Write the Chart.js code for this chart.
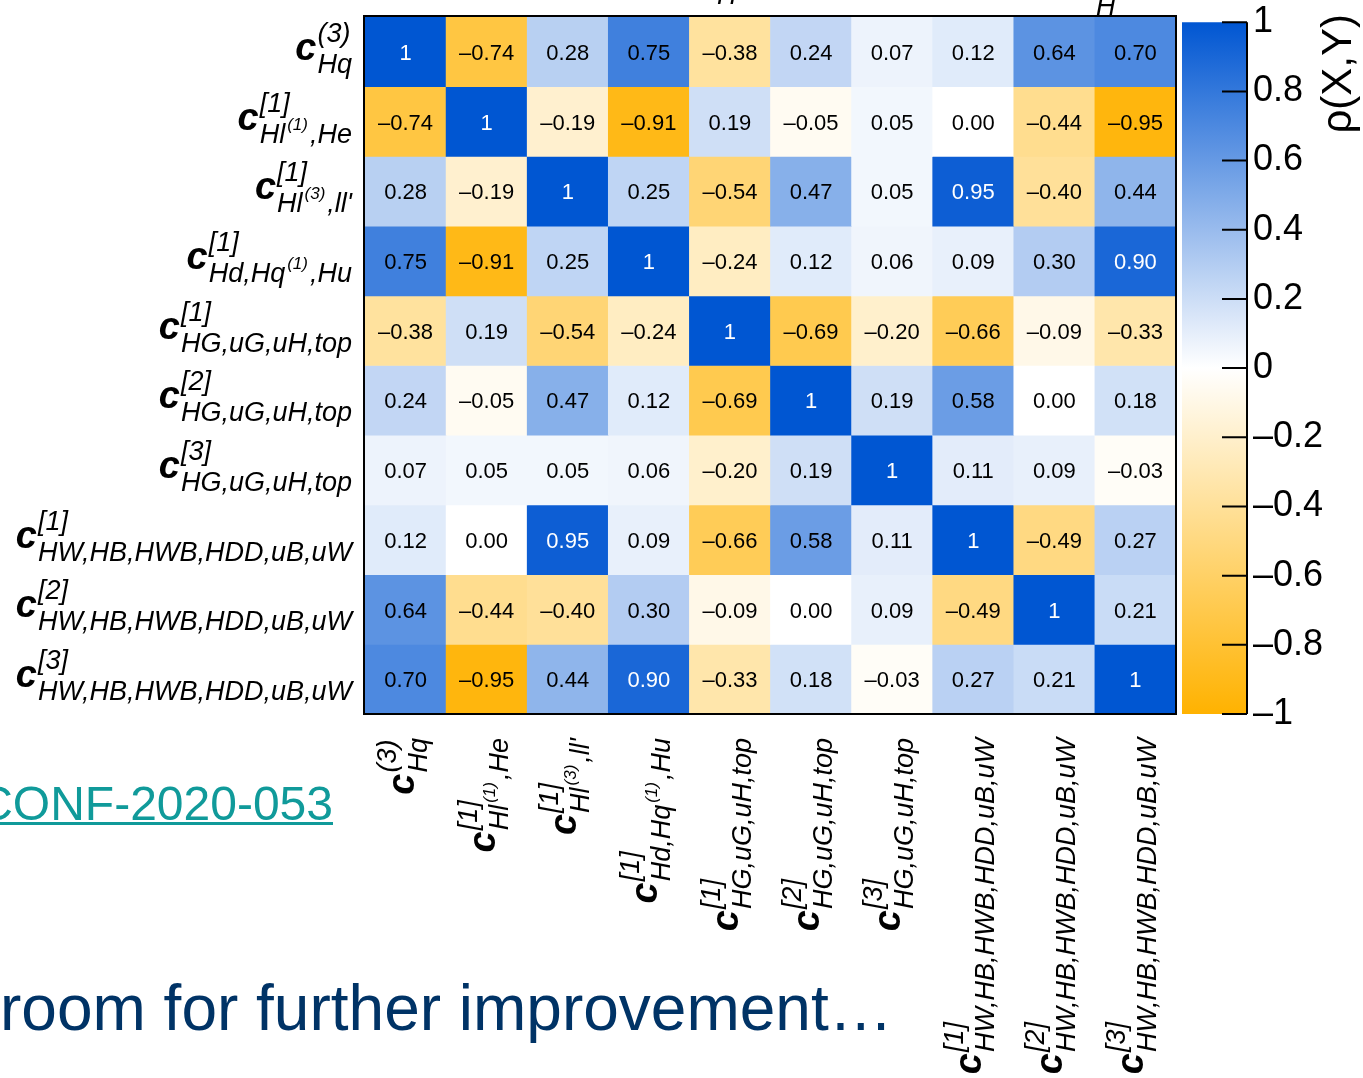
<!DOCTYPE html>
<html>
<head>
<meta charset="utf-8">
<script src="https://cdn.jsdelivr.net/npm/chart.js@4.4.1/dist/chart.umd.min.js"></script>
<style>
  html, body { margin: 0; padding: 0; background: #fff; }
  #wrap { position: relative; width: 1363px; height: 1078px; overflow: hidden; }
  canvas { position: absolute; left: 0; top: 0; }
</style>
</head>
<body>
<div id="wrap">
  <canvas id="matrix" width="1363" height="1078"></canvas>
  <canvas id="scale" width="1363" height="1078"></canvas>
</div>
<script>
// Wilson coefficient groups (rows / columns of the correlation matrix)
const paramKeys = ['cHq3', 'cHl1He', 'cHl3ll', 'cHdHqHu', 'cHG1', 'cHG2', 'cHG3', 'cHW1', 'cHW2', 'cHW3'];
// superscript of the coefficient symbol
const paramSup = ['(3)', '[1]', '[1]', '[1]', '[1]', '[2]', '[3]', '[1]', '[2]', '[3]'];
// subscript pieces; a piece starting with '^' is a raised index inside the subscript
const paramSub = [
  ['Hq'],
  ['Hl', '^(1)', ',He'],
  ['Hl', '^(3)', ",ll'"],
  ['Hd,Hq', '^(1)', ',Hu'],
  ['HG,uG,uH,top'],
  ['HG,uG,uH,top'],
  ['HG,uG,uH,top'],
  ['HW,HB,HWB,HDD,uB,uW'],
  ['HW,HB,HWB,HDD,uB,uW'],
  ['HW,HB,HWB,HDD,uB,uW']
];

// correlation coefficients rho(X,Y), one array per row
const rho = [
  [ 1.00, -0.74,  0.28,  0.75, -0.38,  0.24,  0.07,  0.12,  0.64,  0.70],
  [-0.74,  1.00, -0.19, -0.91,  0.19, -0.05,  0.05,  0.00, -0.44, -0.95],
  [ 0.28, -0.19,  1.00,  0.25, -0.54,  0.47,  0.05,  0.95, -0.40,  0.44],
  [ 0.75, -0.91,  0.25,  1.00, -0.24,  0.12,  0.06,  0.09,  0.30,  0.90],
  [-0.38,  0.19, -0.54, -0.24,  1.00, -0.69, -0.20, -0.66, -0.09, -0.33],
  [ 0.24, -0.05,  0.47,  0.12, -0.69,  1.00,  0.19,  0.58,  0.00,  0.18],
  [ 0.07,  0.05,  0.05,  0.06, -0.20,  0.19,  1.00,  0.11,  0.09, -0.03],
  [ 0.12,  0.00,  0.95,  0.09, -0.66,  0.58,  0.11,  1.00, -0.49,  0.27],
  [ 0.64, -0.44, -0.40,  0.30, -0.09,  0.00,  0.09, -0.49,  1.00,  0.21],
  [ 0.70, -0.95,  0.44,  0.90, -0.33,  0.18, -0.03,  0.27,  0.21,  1.00]
];

// colour scale end points
const scaleMin = -1;
const scaleMax = 1;
const scaleStep = 0.2;
const colNeg = [255, 178, 0];
const colZero = [255, 255, 255];
const colPos = [0, 86, 210];

const FONT = '"Liberation Sans", Arial, Helvetica, sans-serif';

function colorFor(v) {
  const t = Math.min(1, Math.abs(v));
  const end = v >= 0 ? colPos : colNeg;
  const c = colZero.map((z, k) => Math.round(z + (end[k] - z) * t));
  return `rgb(${c[0]},${c[1]},${c[2]})`;
}

function fmtCell(v) {
  if (v === 1) return '1';
  return (v < 0 ? '\u2013' : '') + Math.abs(v).toFixed(2);
}

// draws c^{sup}_{sub} right-aligned at rightX, centred on line cy (local coordinates)
function drawSymbol(ctx, idx, rightX, cy) {
  const cFont = 'italic bold 38px ' + FONT;
  const sFont = 'italic 27px ' + FONT;
  const nFont = 'italic 17px ' + FONT;
  ctx.font = cFont;
  const cW = ctx.measureText('c').width;
  ctx.font = sFont;
  const supW = ctx.measureText(paramSup[idx]).width;
  const pieces = paramSub[idx].map(p => {
    const raised = p.startsWith('^');
    const txt = raised ? p.slice(1) : p;
    ctx.font = raised ? nFont : sFont;
    return { txt, raised, w: ctx.measureText(txt).width + (raised ? 4 : 0) };
  });
  const subW = pieces.reduce((a, p) => a + p.w, 0);
  const total = cW + 1 + Math.max(supW, subW);
  const x0 = rightX - total;
  const base = cy + 8;
  ctx.fillStyle = '#000';
  ctx.textAlign = 'left';
  ctx.textBaseline = 'alphabetic';
  ctx.font = cFont;
  ctx.fillText('c', x0, base);
  ctx.font = sFont;
  ctx.fillText(paramSup[idx], x0 + cW + 1, base - 18);
  let x = x0 + cW + 1;
  pieces.forEach(p => {
    if (p.raised) {
      ctx.font = nFont;
      ctx.fillText(p.txt, x + 2, base + 13 - 13);
    } else {
      ctx.font = sFont;
      ctx.fillText(p.txt, x, base + 13);
    }
    x += p.w;
  });
}

const matrixDecor = {
  id: 'matrixDecor',
  afterDatasetsDraw(chart) {
    const ctx = chart.ctx;
    // cell values
    ctx.save();
    ctx.font = '22px ' + FONT;
    ctx.textAlign = 'center';
    ctx.textBaseline = 'middle';
    chart.data.datasets.forEach((ds, i) => {
      chart.getDatasetMeta(i).data.forEach((bar, j) => {
        const v = rho[i][j];
        ctx.fillStyle = v >= 0.9 ? '#fff' : '#000';
        ctx.fillText(fmtCell(v), bar.x, (bar.y + bar.base) / 2 + 2);
      });
    });
    ctx.restore();
  },
  afterDraw(chart) {
    const ctx = chart.ctx;
    const ca = chart.chartArea;
    const xs = chart.scales.x;
    const ys = chart.scales.y;
    // frame
    ctx.save();
    ctx.strokeStyle = '#000';
    ctx.lineWidth = 2;
    ctx.strokeRect(ca.left - 1, ca.top - 1, ca.right - ca.left + 1, ca.bottom - ca.top + 1);
    ctx.restore();
    // row labels
    paramKeys.forEach((k, i) => {
      ctx.save();
      drawSymbol(ctx, i, ca.left - 13, ys.getPixelForValue(i + 0.5));
      ctx.restore();
    });
    // column labels, rotated
    paramKeys.forEach((k, j) => {
      ctx.save();
      ctx.translate(xs.getPixelForValue(j), ca.bottom + 24);
      ctx.rotate(-Math.PI / 2);
      drawSymbol(ctx, j, 0, 0);
      ctx.restore();
    });
    // slide text around the figure
    ctx.save();
    ctx.textBaseline = 'alphabetic';
    ctx.font = '48px ' + FONT;
    ctx.fillStyle = '#109a9a';
    ctx.textAlign = 'right';
    ctx.fillText('CONF-2020-053', 333, 820);
    ctx.fillRect(0, 822, 333, 3);
    ctx.textAlign = 'left';
    ctx.font = '64px ' + FONT;
    ctx.fillStyle = '#003366';
    ctx.fillText('room for further improvement\u2026', 0, 1030);
    ctx.fillStyle = '#000';
    ctx.font = 'italic 27px ' + FONT;
    ctx.fillText('H', 717, 4);
    ctx.fillText('H', 1096, 15);
    ctx.restore();
  }
};

new Chart(document.getElementById('matrix'), {
  type: 'bar',
  data: {
    labels: paramKeys,
    datasets: rho.map((row, i) => ({
      label: paramKeys[i],
      data: row.map(() => [i, i + 1]),
      backgroundColor: row.map(colorFor),
      borderWidth: 0,
      barPercentage: 1,
      categoryPercentage: 1,
      grouped: false
    }))
  },
  options: {
    responsive: false,
    animation: false,
    devicePixelRatio: 1,
    layout: { padding: { left: 365, top: 17, right: 187, bottom: 364 } },
    plugins: { legend: { display: false }, tooltip: { enabled: false } },
    scales: {
      x: { type: 'category', display: false, offset: true },
      y: { type: 'linear', display: false, min: 0, max: rho.length, reverse: true }
    }
  },
  plugins: [matrixDecor]
});

// colour bar
const barDecor = {
  id: 'barDecor',
  afterDraw(chart) {
    const ctx = chart.ctx;
    const ca = chart.chartArea;
    const ys = chart.scales.y;
    ctx.save();
    ctx.strokeStyle = '#000';
    ctx.lineWidth = 2;
    ctx.beginPath();
    ctx.moveTo(ca.right, ca.top);
    ctx.lineTo(ca.right, ca.bottom);
    ys.ticks.forEach(t => {
      const y = ys.getPixelForValue(t.value);
      ctx.moveTo(ca.right - 25, y);
      ctx.lineTo(ca.right, y);
    });
    ctx.stroke();
    ctx.fillStyle = '#000';
    ctx.font = '42px ' + FONT;
    ctx.textAlign = 'right';
    ctx.textBaseline = 'alphabetic';
    ctx.translate(1351, 14);
    ctx.rotate(-Math.PI / 2);
    ctx.fillText('\u03c1(X,Y)', 0, 0);
    ctx.restore();
  }
};

new Chart(document.getElementById('scale'), {
  type: 'bar',
  data: {
    labels: ['\u03c1(X,Y)'],
    datasets: [{
      data: [[scaleMin, scaleMax]],
      borderWidth: 0,
      barPercentage: 1,
      categoryPercentage: 1,
      backgroundColor(c) {
        const ca = c.chart.chartArea;
        if (!ca) return colorFor(0);
        const g = c.chart.ctx.createLinearGradient(0, ca.bottom, 0, ca.top);
        g.addColorStop(0, colorFor(scaleMin));
        g.addColorStop(0.5, colorFor(0));
        g.addColorStop(1, colorFor(scaleMax));
        return g;
      }
    }]
  },
  options: {
    responsive: false,
    animation: false,
    devicePixelRatio: 1,
    layout: { padding: { left: 1182, top: 17, right: 0, bottom: 364 } },
    plugins: { legend: { display: false }, tooltip: { enabled: false } },
    scales: {
      x: { display: false },
      y: {
        position: 'right',
        min: scaleMin,
        max: scaleMax,
        grid: { display: false, drawTicks: false },
        border: { display: false },
        afterFit(s) { s.width = 116; },
        ticks: {
          stepSize: scaleStep,
          padding: 6,
          color: '#000',
          font: { family: FONT, size: 36, lineHeight: 0.9 },
          callback(v) {
            const r = Math.round(v * 10) / 10;
            const a = Math.abs(r);
            const s = (a === 1 || a === 0) ? String(a) : a.toFixed(1);
            return (r < 0 ? '\u2013' : '') + s;
          }
        }
      }
    }
  },
  plugins: [barDecor]
});
</script>
</body>
</html>
